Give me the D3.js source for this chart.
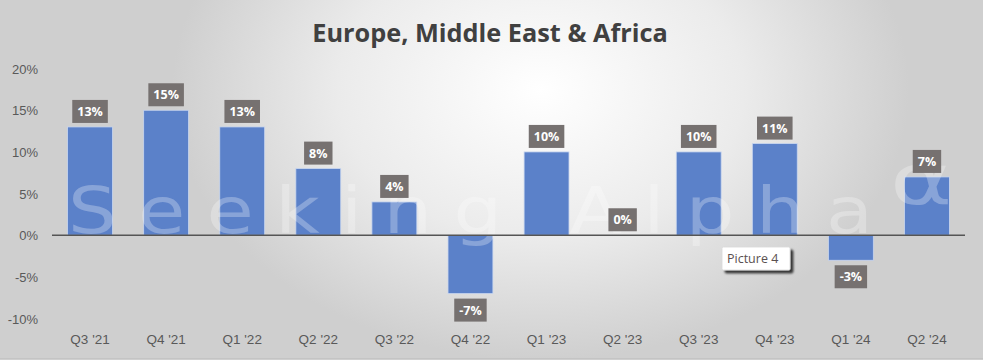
<!DOCTYPE html>
<html><head><meta charset="utf-8">
<script src="https://cdn.jsdelivr.net/npm/d3@7"></script>
<style>
html,body{margin:0;padding:0;overflow:hidden;background:#fff;}
svg{display:block;}
</style></head>
<body>
<script>
const categories = ["Q3 '21","Q4 '21","Q1 '22","Q2 '22","Q3 '22","Q4 '22","Q1 '23","Q2 '23","Q3 '23","Q4 '23","Q1 '24","Q2 '24"];
const values = [13, 15, 13, 8, 4, -7, 10, 0, 10, 11, -3, 7];
const yTicks = [-10, -5, 0, 5, 10, 15, 20];
const title = "Europe, Middle East & Africa";

const W = 983, H = 360;
const svg = d3.select("body").append("svg").attr("width", W).attr("height", H);
const defs = svg.append("defs");
const grad = defs.append("radialGradient").attr("id","bg")
  .attr("cx","55%").attr("cy","25%").attr("r","75%")
  .attr("gradientTransform","translate(0.275,0) scale(0.5,1)");
grad.append("stop").attr("offset","0%").attr("stop-color","#ffffff");
grad.append("stop").attr("offset","55%").attr("stop-color","#ebebeb");
grad.append("stop").attr("offset","100%").attr("stop-color","#cfcfcf");
svg.append("rect").attr("width",W).attr("height",H).attr("fill","#d9d9d9");
svg.append("rect").attr("width",W).attr("height",H).attr("fill","url(#bg)");

const sh = defs.append("filter").attr("id","shadow").attr("x","-20%").attr("y","-20%").attr("width","150%").attr("height","160%");
sh.append("feDropShadow").attr("dx",3).attr("dy",3).attr("stdDeviation",0.8).attr("flood-color","#000").attr("flood-opacity",0.75);

// bottom spreadsheet edge
svg.append("line").attr("x1",0).attr("x2",W).attr("y1",358.5).attr("y2",358.5).attr("stroke","#c4c4c4");

const x = d3.scaleBand().domain(categories).range([52, 965]).paddingInner(0.41).paddingOuter(0.205);
const y = d3.scaleLinear().domain([-10, 20]).range([318.6, 68.6]);

// title
svg.append("text").attr("x", 490).attr("y", 42).attr("text-anchor","middle")
  .attr("font-family","'Open Sans', 'Noto Sans', sans-serif").attr("font-weight","bold")
  .attr("font-size", 25.3).attr("fill","#404040").text(title);

// y axis
const yAxis = d3.axisLeft(y).tickValues(yTicks).tickFormat(d => d + "%").tickSize(0).tickPadding(0);
const ga = svg.append("g").attr("transform","translate(38,0)").call(yAxis);
ga.select(".domain").remove();
ga.selectAll("text").attr("font-family","'Liberation Sans', Arial, sans-serif").attr("font-size",13).attr("fill","#595959").attr("dy","0.35em");

// x axis labels
const xAxis = d3.axisBottom(x).tickSize(0).tickPadding(0);
const gx = svg.append("g").attr("transform","translate(0,334)").call(xAxis);
gx.select(".domain").remove();
gx.selectAll("text").attr("font-family","'Liberation Sans Narrow', 'Liberation Sans', Arial, sans-serif").attr("font-size",13.5).attr("fill","#595959").attr("dy","0.71em");

// bars
svg.append("g").selectAll("rect").data(values).join("rect")
  .attr("x",(d,i)=>x(categories[i]))
  .attr("width", x.bandwidth())
  .attr("y", d => y(Math.max(0,d)))
  .attr("height", d => Math.abs(y(d)-y(0)))
  .attr("fill","#5b81c9").attr("stroke","#c9d6ef").attr("stroke-width",0.8);

// watermark
const wm = svg.append("g").attr("fill","#ffffff").attr("fill-opacity",0.28)
  .attr("font-family","'DejaVu Sans', 'Liberation Sans', sans-serif");
const sx = 1.2;
wm.append("text").attr("transform",`translate(68,233) scale(${sx},1)`).attr("font-size",64)
  .attr("textLength",805/sx).attr("lengthAdjust","spacing").text("Seeking Alpha");
wm.append("text").attr("transform","translate(890,204) scale(1.35,1)").attr("font-size",70).text("\u03b1");

// zero line
svg.append("line").attr("x1",52).attr("x2",965).attr("y1",y(0)).attr("y2",y(0))
  .attr("stroke","#555555").attr("stroke-width",1.6);

// data labels
const lbl = svg.append("g").selectAll("g").data(values).join("g");
lbl.each(function(d,i){
  const g = d3.select(this);
  const t = g.append("text").attr("font-family","'Open Sans', 'Noto Sans', sans-serif")
    .attr("font-weight","bold").attr("font-size",12.5).attr("fill","#ffffff")
    .attr("text-anchor","middle").text(d + "%");
  const tw = t.node().getComputedTextLength();
  const bw = tw + 10, bh = 23;
  const cx = x(categories[i]) + x.bandwidth()/2;
  const top = d >= 0 ? y(d) - 4 - bh : y(d) + 5;
  g.insert("rect","text").attr("x",cx-bw/2).attr("y",top).attr("width",bw).attr("height",bh).attr("fill","#767170");
  t.attr("x",cx).attr("y",top+bh/2).attr("dy","0.36em");
});

// "Picture 4" tag
const pg = svg.append("g");
pg.append("rect").attr("x",722).attr("y",247).attr("width",68).attr("height",23)
  .attr("fill","#ffffff").attr("stroke","#d8d8d8").attr("stroke-width",0.8).attr("rx",1.5).attr("filter","url(#shadow)");
pg.append("text").attr("x",727).attr("y",263).attr("font-family","'Open Sans', 'Noto Sans', sans-serif")
  .attr("font-size",12.5).attr("fill","#5a5050").text("Picture 4");
</script>
</body></html>
